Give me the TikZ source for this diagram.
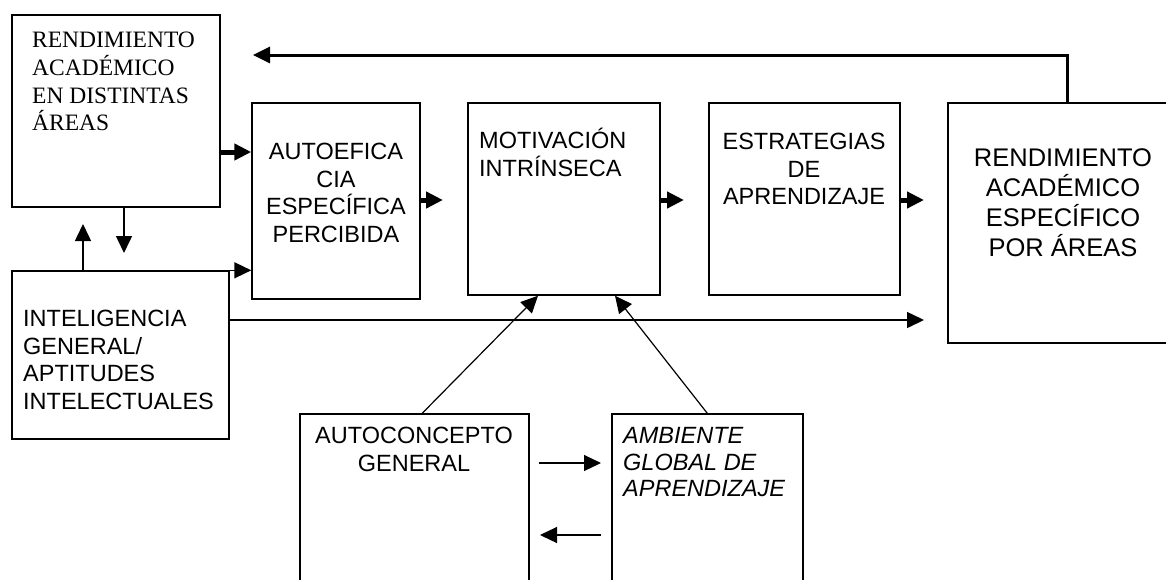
\documentclass[tikz,border=0pt]{standalone}
\usepackage{fontspec}
\setmainfont{Liberation Sans}
\newfontfamily\tnr{Liberation Serif}
\usetikzlibrary{arrows.meta,calc}
\begin{document}
\begin{tikzpicture}[x=1pt,y=-1pt,
  box/.style={draw,line width=1.4pt,inner sep=0pt},
  txt/.style={inner sep=0pt,font=\fontsize{23.5}{27.5}\selectfont},
  bigtxt/.style={inner sep=0pt,font=\fontsize{25.5}{30}\selectfont},
  tip/.style={-{Triangle[length=17pt,width=16pt]}},
  thinarrow/.style={tip,line width=1.5pt},
  fatarrow/.style={tip,line width=5pt},
  fbarrow/.style={tip,line width=3pt},
  diagarrow/.style={tip,line width=1.2pt}]
\useasboundingbox (0,0) rectangle (1166,579);
\clip (0,0) rectangle (1166,579);
\fill[white] (0,0) rectangle (1166,579);
% boxes
\node[box,minimum width=208pt,minimum height=192pt] (b1) at (116,111) {};
\node[box,minimum width=168pt,minimum height=196pt] (ae) at (336,201) {};
\node[box,minimum width=192pt,minimum height=192pt] (mo) at (564,199) {};
\node[box,minimum width=191pt,minimum height=192pt] (es) at (804.5,199) {};
\node[box,minimum width=230pt,minimum height=240pt] (re) at (1063,223) {};
\node[box,minimum width=217pt,minimum height=168pt] (ig) at (120.5,355) {};
\node[box,minimum width=229pt,minimum height=186pt] (ac) at (414.5,507) {};
\node[box,minimum width=191pt,minimum height=186pt] (am) at (707.5,507) {};
% texts
\node[txt,anchor=north west,align=left,font=\tnr\fontsize{23.5}{27.7}\selectfont] (t1) at (32,32) {RENDIMIENTO\\ACADÉMICO\\EN DISTINTAS\\ÁREAS};
\node[txt,anchor=north,align=center] (t2) at (336,143) {AUTOEFICA\\CIA\\ESPECÍFICA\\PERCIBIDA};
\node[txt,anchor=north west,align=left] (t3) at (479,128) {MOTIVACIÓN\\INTRÍNSECA};
\node[txt,anchor=north,align=center] (t4) at (804,133) {ESTRATEGIAS\\DE\\APRENDIZAJE};
\node[bigtxt,anchor=north,align=center] (t5) at (1063,148) {RENDIMIENTO\\ACADÉMICO\\ESPECÍFICO\\POR ÁREAS};
\node[txt,anchor=north west,align=left] (t6) at (23,310) {INTELIGENCIA\\GENERAL/\\APTITUDES\\INTELECTUALES};
\node[txt,anchor=north,align=center] (t7) at (414,427) {AUTOCONCEPTO\\GENERAL};
\node[txt,anchor=north west,align=left,font=\itshape\fontsize{23.5}{26.8}\selectfont] (t8) at (623,427) {AMBIENTE\\GLOBAL DE\\APRENDIZAJE};
% free ends
\coordinate (fbtip) at (253,55);
\coordinate (downtip) at (124,253);
\coordinate (uptip) at (83,224);
\coordinate (aetip) at (443,200);
\coordinate (motip) at (684,200);
\coordinate (estip) at (924,200);
\coordinate (longtip) at (924,320);
\coordinate (r1s) at (539,463);
\coordinate (r1e) at (601,463);
\coordinate (r2s) at (601,535);
\coordinate (r2e) at (540,535);
% connectors
\draw[fbarrow] ([xshift=120pt]re.north west) |- (fbtip);
\draw[fatarrow] (b1.east |- 0,152) -- (ae.west |- 0,152);
\draw[thinarrow] (b1.south -| downtip) -- (downtip);
\draw[thinarrow] (ig.north -| uptip) -- (uptip);
\draw[thinarrow] (ig.north east) -- (ae.west |- ig.north east);
\draw[fatarrow] (ae.east |- aetip) -- (aetip);
\draw[fatarrow] (mo.east |- motip) -- (motip);
\draw[fatarrow] (es.east |- estip) -- (estip);
\draw[thinarrow] (ig.east |- longtip) -- (longtip);
\draw[diagarrow] ([xshift=-107.5pt]ac.north east) -- ([xshift=-26pt]mo.south);
\draw[diagarrow] ([xshift=96pt]am.north west) -- ([xshift=51pt]mo.south);
\draw[diagarrow] (r1s) -- (r1e);
\draw[diagarrow] (r2s) -- (r2e);
\end{tikzpicture}
\end{document}
